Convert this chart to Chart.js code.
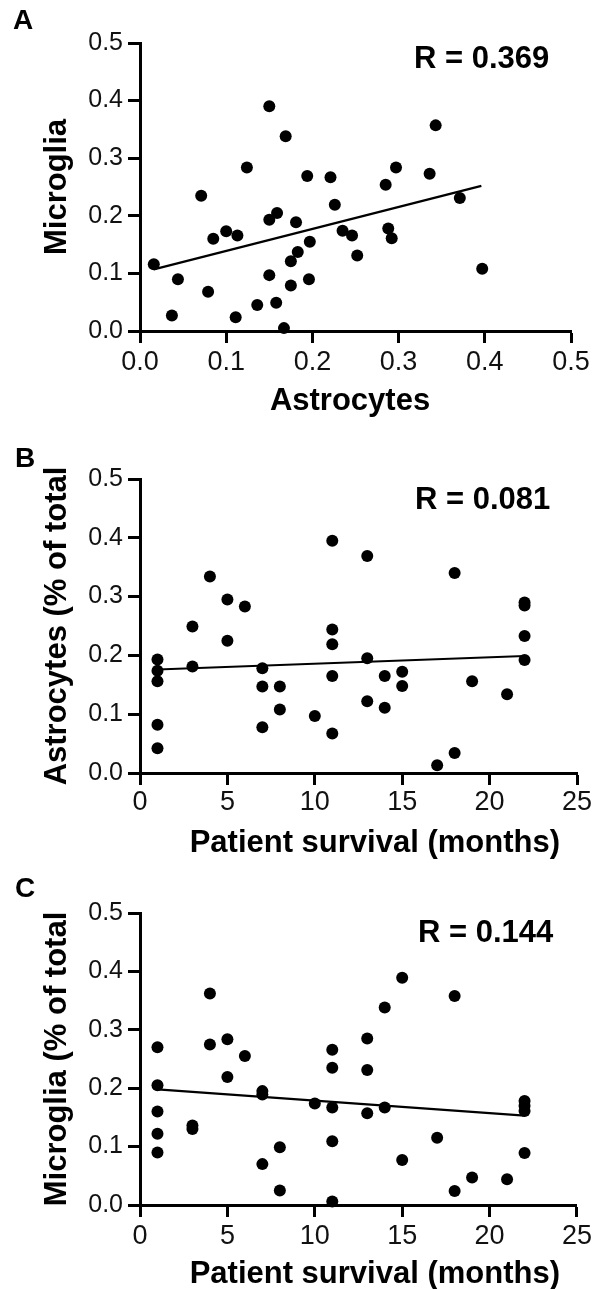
<!DOCTYPE html>
<html><head><meta charset="utf-8">
<script src="https://cdn.jsdelivr.net/npm/chart.js@4.4.1/dist/chart.umd.min.js"></script>
<style>
html,body{margin:0;padding:0;background:#fff;}
body{width:595px;height:1289px;position:relative;overflow:hidden;}
canvas{position:absolute;left:0;}
</style></head><body>
<canvas id="cA" width="595" height="430" style="top:0px;width:595px;height:430px"></canvas>
<canvas id="cB" width="595" height="440" style="top:430px;width:595px;height:440px"></canvas>
<canvas id="cC" width="595" height="419" style="top:870px;width:595px;height:419px"></canvas>
<script>
// ---------- data ----------
const fractionTicks = ['0.0','0.1','0.2','0.3','0.4','0.5'];
const monthTicks = ['0','5','10','15','20','25'];

// Panel A: astrocytes vs microglia
const astroA = [0.016,0.037,0.044,0.071,0.079,0.085,0.100,0.113,0.111,0.124,0.136,0.150,0.150,0.150,0.159,0.158,0.167,0.169,0.175,0.175,0.181,0.183,0.194,0.196,0.197,0.221,0.226,0.235,0.246,0.252,0.285,0.288,0.292,0.297,0.336,0.343,0.371,0.397];
const microA = [0.116,0.027,0.090,0.235,0.068,0.160,0.173,0.166,0.024,0.284,0.045,0.390,0.193,0.097,0.205,0.049,0.005,0.338,0.121,0.079,0.189,0.137,0.269,0.090,0.155,0.267,0.219,0.174,0.166,0.131,0.254,0.178,0.161,0.284,0.273,0.357,0.231,0.108];
const fitAx = [0.016,0.396];
const fitAy = [0.107,0.252];

// Panel B: survival vs astrocytes
const survivalB = [1,1,1,1,1,3,3,4,5,5,6,7,7,7,8,8,10,11,11,11,11,11,13,13,13,14,14,15,15,17,18,18,19,21,22,22,22,22];
const astroB = [0.193,0.174,0.156,0.082,0.042,0.249,0.181,0.334,0.295,0.225,0.283,0.178,0.147,0.078,0.147,0.108,0.097,0.395,0.244,0.219,0.165,0.067,0.369,0.195,0.122,0.165,0.111,0.172,0.148,0.013,0.340,0.034,0.156,0.134,0.290,0.285,0.233,0.192];
const fitBx = [1,22];
const fitBy = [0.176,0.199];

// Panel C: survival vs microglia
const survivalC = [1,1,1,1,1,3,3,4,4,5,5,6,7,7,7,8,8,10,11,11,11,11,11,13,13,13,14,14,15,15,17,18,18,19,21,22,22,22,22];
const microC = [0.270,0.205,0.160,0.122,0.090,0.136,0.130,0.362,0.275,0.284,0.219,0.255,0.195,0.189,0.070,0.099,0.025,0.174,0.266,0.235,0.167,0.109,0.006,0.285,0.231,0.157,0.338,0.167,0.389,0.077,0.115,0.358,0.024,0.047,0.044,0.178,0.170,0.161,0.089];
const fitCx = [1,22];
const fitCy = [0.198,0.153];

const titlesA = {x:'Astrocytes', y:'Microglia', r:'R = 0.369', letter:'A'};
const titlesB = {x:'Patient survival (months)', y:'Astrocytes (% of total', r:'R = 0.081', letter:'B'};
const titlesC = {x:'Patient survival (months)', y:'Microglia (% of total', r:'R = 0.144', letter:'C'};

// ---------- drawing ----------
const FONT = "'Liberation Sans', Arial, Helvetica, sans-serif";
const INK = '#000';
function pts(xs, ys){ return xs.map((x,i)=>({x:x, y:ys[i]})); }

const annot = {
  id:'annot',
  afterDraw(chart, args, o){
    const ctx = chart.ctx, a = chart.chartArea;
    ctx.save();
    ctx.fillStyle = INK; ctx.textBaseline = 'alphabetic';
    ctx.textAlign = 'left';
    ctx.font = 'bold ' + o.letterSize + 'px ' + FONT;
    ctx.fillText(o.letter, o.letterX, o.letterY);
    ctx.font = 'bold ' + o.rSize + 'px ' + FONT;
    ctx.fillText(o.rText, a.left + o.rDX, a.top + o.rDY);
    ctx.font = 'bold 31px ' + FONT;
    ctx.textAlign = o.xtAlign;
    ctx.fillText(o.xText, o.xtX, a.bottom + o.xtDY);
    ctx.restore();
  }
};

function axis(min, max, step, labels, title, tpad, fit, tickPad, tickSize){
  return {
    type:'linear', min:min, max:max,
    ticks:{stepSize:step, color:'#111', font:{family:FONT, size:tickSize}, padding:tickPad,
      autoSkip:false, maxRotation:0, minRotation:0,
      callback:(v)=>labels[Math.round((v-min)/step)]},
    grid:{display:true, drawOnChartArea:false, drawTicks:true, tickLength:12, tickWidth:3, tickColor:INK},
    border:{display:true, width:3, color:INK},
    title:{display:title !== null, text:title || '', color:INK,
      font:{family:FONT, size:31, weight:'bold', lineHeight:1}, padding:tpad, align:'center'},
    afterFit:fit
  };
}

function panel(id, cfg){
  new Chart(document.getElementById(id), {
    type:'scatter',
    data:{datasets:[
      {data:pts(cfg.xs, cfg.ys), backgroundColor:INK, borderColor:INK, borderWidth:0, pointRadius:6, clip:false},
      {data:pts(cfg.fx, cfg.fy), showLine:true, borderColor:INK, borderWidth:2.2, pointRadius:0, fill:false}
    ]},
    options:{
      responsive:false, animation:false, events:[],
      layout:{padding:cfg.pad},
      plugins:{legend:{display:false}, tooltip:{enabled:false},
        annot:{letter:cfg.t.letter, letterSize:28, letterX:cfg.lx, letterY:cfg.ly,
               rText:cfg.t.r, rSize:31, rDX:cfg.rdx, rDY:cfg.rdy,
               xText:cfg.t.x, xtAlign:cfg.xtAlign, xtX:cfg.xtX, xtDY:cfg.xtDY}},
      scales:{
        x:axis(cfg.xmin, cfg.xmax, cfg.xstep, cfg.xlabels, null, 0,
               (s)=>{ s.height = cfg.xh; }, cfg.xtp, 27),
        y:axis(0, 0.5, 0.1, fractionTicks, cfg.t.y, {top:41.5, bottom:0},
               (s)=>{ s.width = 140; }, 5, 25)
      }
    },
    plugins:[annot]
  });
}

panel('cA', {xs:astroA, ys:microA, fx:fitAx, fy:fitAy, t:titlesA,
  xmin:0, xmax:0.5, xstep:0.1, xlabels:fractionTicks,
  pad:{left:0, right:24, top:43, bottom:0}, xh:99, xtp:3,
  xtAlign:'center', xtX:350, xtDY:79,
  lx:13, ly:29, rdx:274, rdy:25});
panel('cB', {xs:survivalB, ys:astroB, fx:fitBx, fy:fitBy, t:titlesB,
  xmin:0, xmax:25, xstep:5, xlabels:monthTicks,
  pad:{left:0, right:18, top:49, bottom:0}, xh:97, xtp:1,
  xtAlign:'right', xtX:560, xtDY:79,
  lx:15, ly:37, rdx:275, rdy:30});
panel('cC', {xs:survivalC, ys:microC, fx:fitCx, fy:fitCy, t:titlesC,
  xmin:0, xmax:25, xstep:5, xlabels:monthTicks,
  pad:{left:0, right:18, top:43, bottom:0}, xh:84, xtp:3,
  xtAlign:'right', xtX:560, xtDY:78,
  lx:15, ly:27, rdx:278, rdy:29});
</script>
</body></html>
